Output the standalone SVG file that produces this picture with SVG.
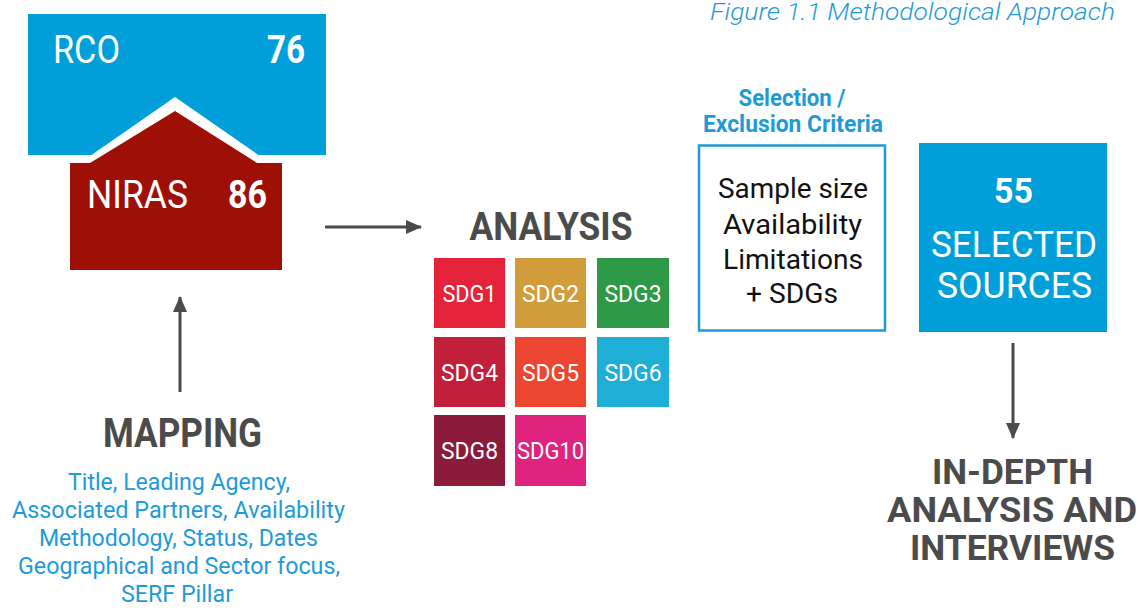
<svg xmlns="http://www.w3.org/2000/svg" width="1140" height="610" viewBox="0 0 1140 610">
<style>
text{font-family:Roboto,"Liberation Sans",sans-serif}
.w{fill:#fff}
.b{font-weight:700}
.hd{fill:#4b4b4b;font-weight:700}
.bl{fill:#1e9bd7}
.sdg{fill:#fff;font-size:24px;text-anchor:middle}
.conn{stroke:#4b4b4b;stroke-width:3;fill:none}
</style>
<defs>
<marker id="ah" markerUnits="userSpaceOnUse" markerWidth="16" markerHeight="14" refX="15" refY="7" orient="auto">
<path d="M0,0 L16,7 L0,14 Z" fill="#4b4b4b"/>
</marker>
</defs>
<text x="1115" y="20" text-anchor="end" class="bl" font-size="23" font-style="italic" font-weight="300" textLength="405" lengthAdjust="spacingAndGlyphs">Figure 1.1 Methodological Approach</text>
<g id="rco">
<rect x="28" y="14" width="298" height="141" fill="#009fda"/>
<text x="53" y="63" class="w" font-size="39" textLength="67" lengthAdjust="spacingAndGlyphs">RCO</text>
<text x="305" y="63" class="w b" font-size="39" text-anchor="end" textLength="38" lengthAdjust="spacingAndGlyphs">76</text>
</g>
<g id="niras">
<polygon points="80,163 175,97 270,163" fill="#fff"/>
<polygon points="70,163 90,163 175,111 257,163 282,163 282,270 70,270" fill="#9e1006"/>
<text x="87" y="208" class="w" font-size="39" textLength="101" lengthAdjust="spacingAndGlyphs">NIRAS</text>
<text x="267" y="208" class="w b" font-size="39" text-anchor="end" textLength="39" lengthAdjust="spacingAndGlyphs">86</text>
</g>
<g id="connectors">
<line x1="325" y1="227" x2="421" y2="227" class="conn" marker-end="url(#ah)"/>
<line x1="180" y1="392" x2="180" y2="297" class="conn" marker-end="url(#ah)"/>
<line x1="1013" y1="343" x2="1013" y2="438" class="conn" marker-end="url(#ah)"/>
</g>
<g id="analysis">
<text x="551" y="240" class="hd" font-size="39" text-anchor="middle" textLength="163" lengthAdjust="spacingAndGlyphs">ANALYSIS</text>
<rect x="434" y="258" width="71" height="70" fill="#e5243b"/>
<text x="469.5" y="302" class="sdg" textLength="54" lengthAdjust="spacingAndGlyphs">SDG1</text>
<rect x="515" y="258" width="71" height="70" fill="#d19c3a"/>
<text x="550.5" y="302" class="sdg" textLength="57" lengthAdjust="spacingAndGlyphs">SDG2</text>
<rect x="597" y="258" width="72" height="70" fill="#2e9a47"/>
<text x="633" y="302" class="sdg" textLength="57" lengthAdjust="spacingAndGlyphs">SDG3</text>
<rect x="434" y="337" width="71" height="70" fill="#c11f3a"/>
<text x="469.5" y="381" class="sdg" textLength="57" lengthAdjust="spacingAndGlyphs">SDG4</text>
<rect x="515" y="337" width="71" height="70" fill="#ec4530"/>
<text x="550.5" y="381" class="sdg" textLength="57" lengthAdjust="spacingAndGlyphs">SDG5</text>
<rect x="597" y="337" width="72" height="70" fill="#1faed6"/>
<text x="633" y="381" class="sdg" textLength="57" lengthAdjust="spacingAndGlyphs">SDG6</text>
<rect x="434" y="415" width="71" height="71" fill="#8b1a3b"/>
<text x="469.5" y="459" class="sdg" textLength="57" lengthAdjust="spacingAndGlyphs">SDG8</text>
<rect x="515" y="415" width="71" height="71" fill="#e0237e"/>
<text x="550.5" y="459" class="sdg" textLength="67" lengthAdjust="spacingAndGlyphs">SDG10</text>
</g>
<g id="criteria">
<text x="792" y="106" class="bl b" font-size="23" text-anchor="middle" textLength="107" lengthAdjust="spacingAndGlyphs">Selection /</text>
<text x="793" y="132" class="bl b" font-size="23" text-anchor="middle" textLength="180" lengthAdjust="spacingAndGlyphs">Exclusion Criteria</text>
<rect x="699" y="145.5" width="186" height="185" fill="#fff" stroke="#1e9bd7" stroke-width="2.5"/>
<g font-size="28" text-anchor="middle" fill="#111">
<text x="793" y="198" textLength="150" lengthAdjust="spacingAndGlyphs">Sample size</text>
<text x="792.5" y="234" textLength="139" lengthAdjust="spacingAndGlyphs">Availability</text>
<text x="793" y="269" textLength="140" lengthAdjust="spacingAndGlyphs">Limitations</text>
<text x="792" y="303" textLength="92" lengthAdjust="spacingAndGlyphs">+ SDGs</text>
</g>
</g>
<g id="selected">
<rect x="919" y="143" width="188" height="189" fill="#009fda"/>
<text x="1013.5" y="203" class="w b" font-size="35" text-anchor="middle" textLength="39" lengthAdjust="spacingAndGlyphs">55</text>
<text x="1014" y="257" class="w" font-size="37" text-anchor="middle" textLength="166" lengthAdjust="spacingAndGlyphs">SELECTED</text>
<text x="1014.5" y="298" class="w" font-size="37" text-anchor="middle" textLength="155" lengthAdjust="spacingAndGlyphs">SOURCES</text>
</g>
<g id="indepth">
<text x="1012.5" y="484" class="hd" font-size="35" text-anchor="middle" textLength="161" lengthAdjust="spacingAndGlyphs">IN-DEPTH</text>
<text x="1012" y="522" class="hd" font-size="35" text-anchor="middle" textLength="250" lengthAdjust="spacingAndGlyphs">ANALYSIS  AND</text>
<text x="1012.5" y="560" class="hd" font-size="35" text-anchor="middle" textLength="205" lengthAdjust="spacingAndGlyphs">INTERVIEWS</text>
</g>
<g id="mapping">
<text x="182.5" y="447" class="hd" font-size="41" text-anchor="middle" textLength="159" lengthAdjust="spacingAndGlyphs">MAPPING</text>
<g class="bl" font-size="24" text-anchor="middle">
<text x="179" y="490" textLength="222" lengthAdjust="spacingAndGlyphs">Title, Leading Agency,</text>
<text x="178.5" y="518" textLength="333" lengthAdjust="spacingAndGlyphs">Associated Partners, Availability</text>
<text x="178.5" y="546" textLength="279" lengthAdjust="spacingAndGlyphs">Methodology, Status, Dates</text>
<text x="179" y="574" textLength="322" lengthAdjust="spacingAndGlyphs">Geographical and Sector focus,</text>
<text x="177" y="602" textLength="112" lengthAdjust="spacingAndGlyphs">SERF Pillar</text>
</g>
</g>
</svg>
